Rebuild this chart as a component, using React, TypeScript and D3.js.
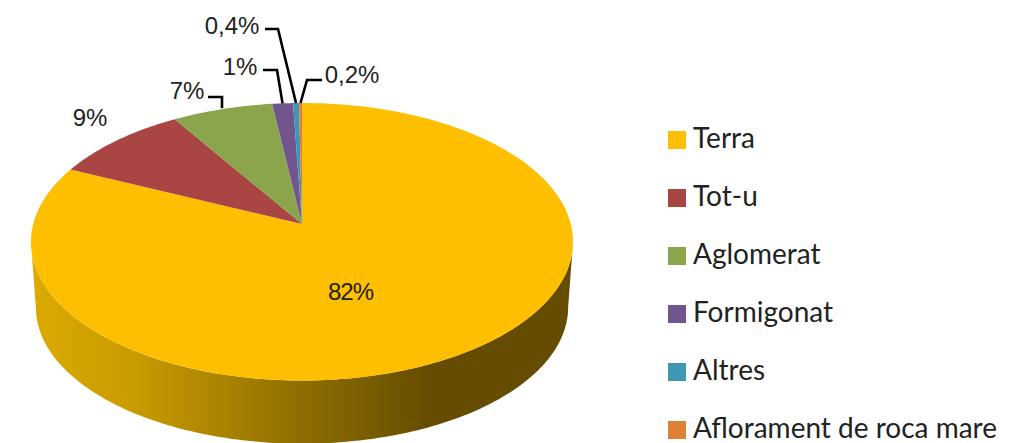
import React from "react";
import * as d3 from "d3";

const categories = ["Terra", "Tot-u", "Aglomerat", "Formigonat", "Altres", "Aflorament de roca mare"];
const values = [81.9, 9.3, 6.8, 1.4, 0.4, 0.2];
const colors = ["#FDBF00", "#A94644", "#8AA54C", "#72558F", "#3F98B2", "#DD8138"];
const labels = ["82%", "9%", "7%", "1%", "0,4%", "0,2%"];

const W = 1023, H = 443;
const apex = { x: 302, y: 224 };
const upR = 121, downR = 156.5, halfW = 271;
const k = (downR - upR) / (downR + upR);
const a = upR * (1 + k);
const c = halfW * Math.sqrt(1 - k * k);
const project = (t: number, scale = 1, dy = 0) => {
  const d = 1 + k * Math.cos(t);
  return [apex.x + (scale * c * Math.sin(t)) / d, apex.y + dy - (scale * a * Math.cos(t)) / d] as [number, number];
};
const wallScale = 0.982, wallDrop = 66;

const arcs = d3.pie<number>().sort(null)(values);
const line = d3.line();
const sliceD = (s: number, e: number) => {
  const n = Math.max(2, Math.ceil((e - s) * 60));
  const pts = d3.range(n + 1).map((i) => project(s + ((e - s) * i) / n));
  return line([[apex.x, apex.y], ...pts]) + "Z";
};
// the rim's widest points are where cos(t) = -k
const frontStart = Math.acos(-k), frontEnd = 2 * Math.PI - Math.acos(-k);
const wallD = (() => {
  const ts = d3.range(161).map((i) => frontStart + ((frontEnd - frontStart) * i) / 160);
  return line([...ts.map((t) => project(t)), ...ts.slice().reverse().map((t) => project(t, wallScale, wallDrop))]) + "Z";
})();

const legendY = d3.scaleLinear().domain([0, 5]).range([140, 430]);
// label layout: text anchor point, and the elbow of its leader
const labelLayout = [
  { x: 351, y: 300 },
  { x: 90, y: 126 },
  { x: 187, y: 99 },
  { x: 240, y: 75 },
  { x: 232, y: 34 },
  { x: 352, y: 83 },
];
const leaders: (number[][] | null)[] = [
  null,
  null,
  [[208, 97], [222, 97]],
  [[263, 70], [277, 70]],
  [[265, 29], [278, 29]],
  [[322, 80], [307, 80]],
];

export default function App() {
  return (
    <svg width={W} height={H} style={{ position: "absolute", left: 0, top: 0, display: "block", background: "#fff" }}>
      <defs>
        <linearGradient id="wall" gradientUnits="userSpaceOnUse" x1={31} x2={572} y1={0} y2={0}>
          <stop offset="0" stopColor="#DCAA00" />
          <stop offset="0.2" stopColor="#C79A00" />
          <stop offset="0.5" stopColor="#8E6E00" />
          <stop offset="0.74" stopColor="#654C00" />
          <stop offset="1" stopColor="#654C00" />
        </linearGradient>
      </defs>
      <path d={wallD} fill="url(#wall)" />
      {arcs.map((s, i) => (
        <path key={categories[i]} d={sliceD(s.startAngle, s.endAngle)} fill={colors[i]} />
      ))}
      {leaders.map((l, i) => {
        if (!l) return null;
        const mid = (arcs[i].startAngle + arcs[i].endAngle) / 2;
        const end = i === 2 ? [l[1][0], project(mid)[1] - 1] : project(mid);
        return (
          <polyline key={i} points={[...l, end].map((p) => p.join(",")).join(" ")} fill="none" stroke="#000" strokeWidth={2.6} />
        );
      })}
      {labels.map((t, i) => (
        <text key={t} x={labelLayout[i].x} y={labelLayout[i].y} textAnchor="middle" fontFamily="Liberation Sans" fontSize={24} fill="#222" textLength={i === 0 ? 46 : undefined}>
          {t}
        </text>
      ))}
      {categories.map((t, i) => (
        <g key={t}>
          <rect x={668} y={legendY(i) - 9} width={18} height={18} fill={colors[i]} />
          <text x={693} y={legendY(i) + 8} fontFamily="Lato" fontSize={28} fill="#222">
            {t}
          </text>
        </g>
      ))}
    </svg>
  );
}
